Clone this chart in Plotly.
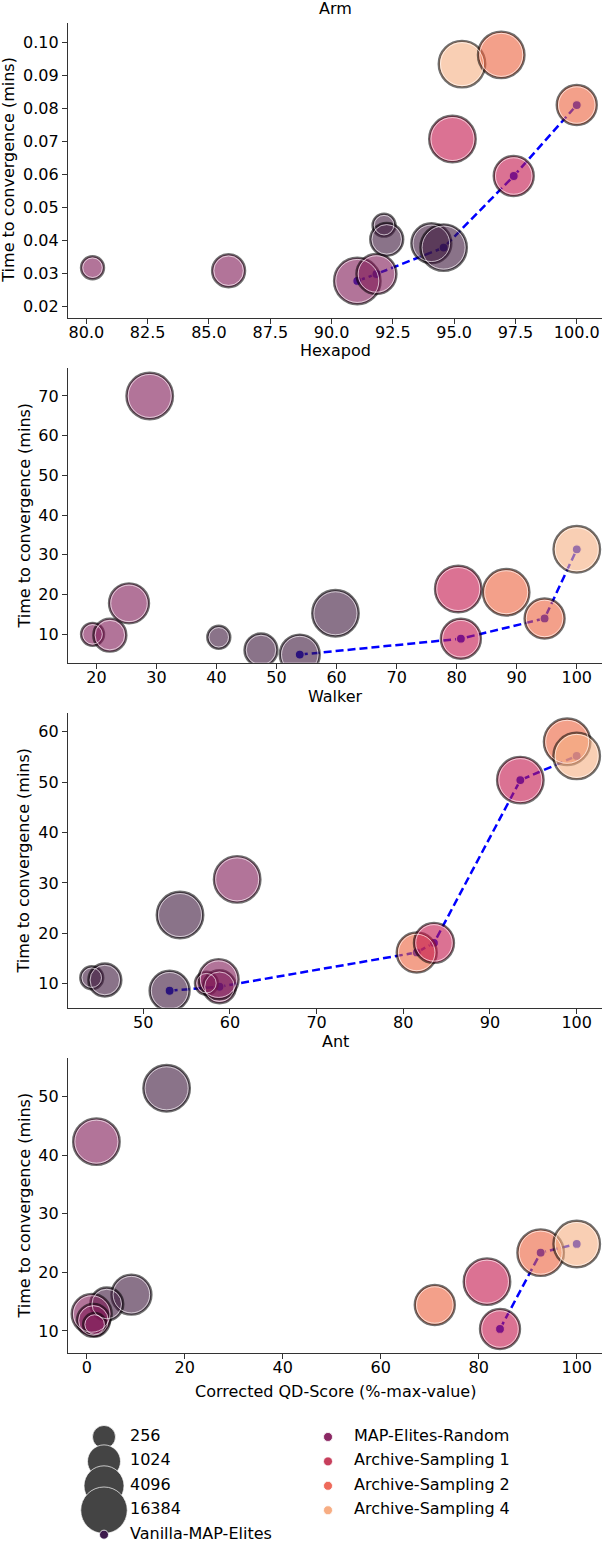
import plotly.graph_objects as go

FONT = "DejaVu Sans"

# variant keys: V = Vanilla-MAP-Elites, R = MAP-Elites-Random, A1/A2/A4 = Archive-Sampling 1/2/4
variant_keys = ["V", "R", "A1", "A2", "A4"]
variant_names = ["Vanilla-MAP-Elites", "MAP-Elites-Random", "Archive-Sampling 1",
                 "Archive-Sampling 2", "Archive-Sampling 4"]
batch_sizes = [256, 1024, 4096, 16384]
env_titles = ["Arm", "Hexapod", "Walker", "Ant"]

# Arm
arm_qd = [80.25, 85.8, 91.05, 91.83, 92.14, 92.25, 94.07, 94.57, 94.93, 95.32, 96.92, 97.43, 100.0]
arm_time = [0.0318, 0.0309, 0.0278, 0.0299, 0.0447, 0.0404, 0.0392, 0.0379, 0.0708, 0.0935, 0.0963, 0.0596, 0.0811]
arm_batch = [256, 1024, 16384, 4096, 256, 1024, 4096, 16384, 16384, 16384, 16384, 4096, 4096]
arm_variant = ["R", "R", "R", "R", "V", "V", "V", "V", "A1", "A4", "A2", "A1", "A2"]

# Hexapod
hexapod_qd = [19.36, 22.24, 25.43, 28.88, 40.38, 47.41, 53.87, 59.81, 80.26, 80.7, 88.24, 94.64, 100.0]
hexapod_time = [10.0, 9.8, 17.8, 70.0, 9.25, 6.06, 4.9, 15.3, 21.4, 8.9, 20.6, 14.0, 31.4]
hexapod_batch = [256, 1024, 4096, 16384, 256, 1024, 4096, 16384, 16384, 4096, 16384, 4096, 16384]
hexapod_variant = ["R", "R", "R", "R", "V", "V", "V", "V", "A1", "A1", "A2", "A2", "A4"]

# Walker
walker_qd = [44.07, 45.58, 53.05, 54.25, 57.3, 58.8, 58.7, 60.84, 81.55, 83.54, 93.5, 98.9, 100.0]
walker_time = [11.19, 10.73, 8.6, 23.62, 10.1, 9.4, 10.9, 30.7, 16.2, 18.1, 50.4, 58.0, 55.2]
walker_batch = [256, 1024, 4096, 16384, 256, 1024, 4096, 16384, 4096, 4096, 16384, 16384, 16384]
walker_variant = ["V", "V", "V", "V", "R", "R", "R", "R", "A2", "A1", "A1", "A2", "A4"]

# Ant
ant_qd = [1.96, 16.29, 9.1, 4.07, 1.0, 1.35, 1.6, 71.03, 81.68, 84.34, 92.64, 100.0]
ant_time = [42.32, 51.42, 16.2, 14.6, 12.9, 11.8, 11.1, 14.44, 18.42, 10.34, 23.37, 24.85]
ant_batch = [16384, 16384, 4096, 1024, 4096, 1024, 256, 4096, 16384, 4096, 16384, 16384]
ant_variant = ["R", "V", "V", "V", "R", "R", "R", "A2", "A1", "A1", "A2", "A4"]

env_data = [
    (arm_qd, arm_time, arm_batch, arm_variant),
    (hexapod_qd, hexapod_time, hexapod_batch, hexapod_variant),
    (walker_qd, walker_time, walker_batch, walker_variant),
    (ant_qd, ant_time, ant_batch, ant_variant),
]

# styles
BUBBLE_SIZE = {256: 23, 1024: 33, 4096: 40, 16384: 46.5}
FILL = {
    "V": "rgba(60,22,58,0.6)",
    "R": "rgba(127,23,85,0.6)",
    "A1": "rgba(195,20,75,0.6)",
    "A2": "rgba(235,97,60,0.6)",
    "A4": "rgba(245,175,130,0.6)",
}
KEY_COLOR = {
    "V": "#3d1a4c",
    "R": "#8b2864",
    "A1": "#c73f5c",
    "A2": "#ee6a5b",
    "A4": "#f7ad83",
}
EDGE = "rgba(0,0,0,0.55)"

domains = [(0.7940, 0.9853), (0.5702, 0.7612), (0.3465, 0.5374), (0.1228, 0.3137)]
x_ranges = [(79.25, 101.03), (15.27, 104.2), (41.33, 102.92), (-3.84, 105.16)]
y_ranges = [(0.01667, 0.10606), (2.85, 76.97), (5.24, 63.65), (6.30, 56.55)]
x_ticks = [(2.5, ".1f"), (10, "d"), (10, "d"), (20, "d")]
y_ticks = [(0.01, ".2f"), (10, "d"), (10, "d"), (10, "d")]
title_y = [0.9946, 0.773, 0.548, 0.3243]
ylabel_px = [8.5, 24, 24, 24]

L, R = 68, 2
W, H = 604, 1542
PW = W - L - R

fig = go.Figure()
annotations = []

for i, (xs, ys, bs, vs) in enumerate(env_data):
    sfx = "" if i == 0 else str(i + 1)
    xa, ya = "x" + sfx, "y" + sfx

    # pareto front (max QD-score, min time)
    pts = sorted(zip(xs, ys), key=lambda p: -p[0])
    front = []
    best = float("inf")
    for x, y in pts:
        if y < best:
            front.append((x, y))
            best = y
    front.reverse()
    fig.add_trace(go.Scatter(
        x=[p[0] for p in front], y=[p[1] for p in front],
        mode="lines+markers", xaxis=xa, yaxis=ya, showlegend=False,
        line=dict(color="#0000ff", width=2.5, dash="8px,4px"),
        marker=dict(size=9, color="#1010e0", opacity=1,
                    line=dict(color="rgba(255,255,255,0.9)", width=1.2)),
        hoverinfo="skip",
    ))
    fig.add_trace(go.Scatter(
        x=xs, y=ys, mode="markers", xaxis=xa, yaxis=ya, showlegend=False,
        marker=dict(size=[BUBBLE_SIZE[b] for b in bs], color=[FILL[v] for v in vs],
                    opacity=1, line=dict(color=EDGE, width=2.4)),
    ))
    fig.add_trace(go.Scatter(
        x=xs, y=ys, mode="markers", xaxis=xa, yaxis=ya, showlegend=False,
        marker=dict(size=[BUBBLE_SIZE[b] - 3.5 for b in bs], color="rgba(0,0,0,0)",
                    opacity=1, line=dict(color="rgba(255,255,255,0.8)", width=0.8)),
        hoverinfo="skip",
    ))

    axis_common = dict(showline=True, linecolor="#333", linewidth=1.4, ticks="outside",
                       ticklen=5, tickwidth=1.3, tickcolor="#333", showgrid=False,
                       zeroline=False, tickfont=dict(family=FONT, size=16, color="black"))
    fig.layout["xaxis" + sfx] = dict(axis_common, domain=[0, 1], anchor=ya,
                                     range=list(x_ranges[i]), dtick=x_ticks[i][0],
                                     tickformat=x_ticks[i][1], ticklabelstandoff=-5)
    fig.layout["yaxis" + sfx] = dict(axis_common, domain=list(domains[i]), anchor=xa,
                                     range=list(y_ranges[i]), dtick=y_ticks[i][0],
                                     tickformat=y_ticks[i][1])

    annotations.append(dict(text=env_titles[i], xref="paper", yref="paper", x=0.5,
                            y=title_y[i], showarrow=False, xanchor="center",
                            yanchor="middle", font=dict(family=FONT, size=16, color="black")))
    annotations.append(dict(text="Time to convergence (mins)", xref="paper", yref="paper",
                            x=(ylabel_px[i] - L) / PW, y=sum(domains[i]) / 2,
                            textangle=-90, showarrow=False, xanchor="center",
                            yanchor="middle", font=dict(family=FONT, size=16, color="black")))

annotations.append(dict(text="Corrected QD-Score (%-max-value)", xref="paper", yref="paper",
                        x=0.5, y=1 - 1391 / H, showarrow=False, xanchor="center",
                        yanchor="middle", font=dict(family=FONT, size=16, color="black")))

# legend key drawn in its own hidden axes
rows = list(range(len(batch_sizes)))
key_x = dict(size_marker=36, size_text=62, hue_marker=260, hue_text=286)
lg = dict(xaxis="x5", yaxis="y5", showlegend=False, hoverinfo="skip")
fig.add_trace(go.Scatter(
    x=[key_x["size_marker"]] * len(batch_sizes), y=rows, mode="markers",
    marker=dict(size=[BUBBLE_SIZE[b] for b in batch_sizes], color="#444444", opacity=1,
                line=dict(color="rgba(255,255,255,0.7)", width=1)), **lg))
fig.add_trace(go.Scatter(
    x=[key_x["size_text"]] * len(batch_sizes), y=rows, mode="text",
    text=[str(b) for b in batch_sizes], textposition="middle right",
    textfont=dict(family=FONT, size=16, color="black"), **lg))
fig.add_trace(go.Scatter(
    x=[key_x["size_marker"]], y=[len(batch_sizes)], mode="markers",
    marker=dict(size=9, color=KEY_COLOR["V"], line=dict(color="rgba(255,255,255,0.8)", width=1)),
    **lg))
fig.add_trace(go.Scatter(
    x=[key_x["size_text"]], y=[len(batch_sizes)], mode="text", text=[variant_names[0]],
    textposition="middle right", textfont=dict(family=FONT, size=16, color="black"), **lg))
fig.add_trace(go.Scatter(
    x=[key_x["hue_marker"]] * 4, y=list(range(4)), mode="markers",
    marker=dict(size=9, color=[KEY_COLOR[k] for k in variant_keys[1:]], opacity=1,
                line=dict(color="rgba(255,255,255,0.8)", width=1)), **lg))
fig.add_trace(go.Scatter(
    x=[key_x["hue_text"]] * 4, y=list(range(4)), mode="text", text=variant_names[1:],
    textposition="middle right", textfont=dict(family=FONT, size=16, color="black"), **lg))

fig.layout["xaxis5"] = dict(domain=[0, 1], range=[0, PW], visible=False, anchor="y5")
fig.layout["yaxis5"] = dict(domain=[0, 1 - 1424.75 / H], range=[4.3, -0.5], visible=False,
                            anchor="x5")

fig.update_layout(
    width=W, height=H,
    margin=dict(l=L, r=R, t=0, b=0),
    paper_bgcolor="white", plot_bgcolor="white",
    font=dict(family=FONT, size=16, color="black"),
    annotations=annotations,
    showlegend=False,
)

fig.write_html("out.html", config={"displayModeBar": False},
               post_script="document.body.style.margin='0px';")
